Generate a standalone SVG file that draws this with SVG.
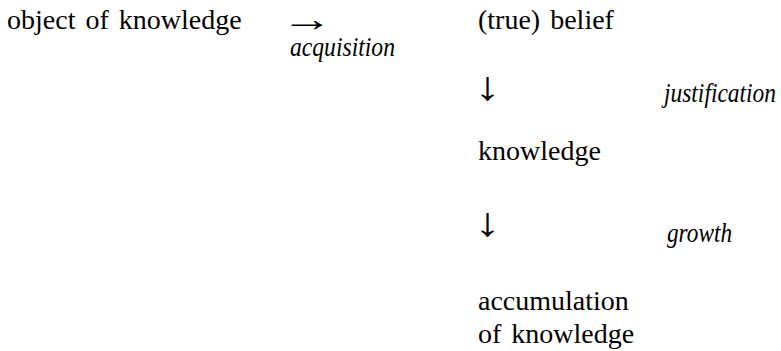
<svg xmlns="http://www.w3.org/2000/svg" width="781" height="351" viewBox="0 0 781 351">
<style>
.t{font-family:'Liberation Serif','Times New Roman',serif;font-size:28px;word-spacing:3px;fill:#000}
.it{font-family:'Liberation Serif','Times New Roman',serif;font-size:28px;font-style:italic;fill:#000}
.a{font-family:'Liberation Serif','Times New Roman',serif;font-size:26px;fill:#000}
</style>
<rect width="781" height="351" fill="#fff"/>
<g id="object-of-knowledge"><text class="t" x="7" y="29">object of knowledge</text></g>
<g id="true-belief"><text class="t" x="478" y="29">(true) belief</text></g>
<g id="knowledge"><text class="t" x="478" y="160">knowledge</text></g>
<g id="accumulation"><text class="t" x="478" y="310">accumulation</text><text class="t" x="478" y="343">of knowledge</text></g>
<g id="connectors">
<text class="a" transform="translate(281 31) scale(2 1.35)">→</text>
<text class="it" x="290" y="56" textLength="105" lengthAdjust="spacingAndGlyphs">acquisition</text>
<text class="a" transform="translate(474.5 100) scale(2 1.56)">↓</text>
<text class="it" x="664" y="102" textLength="112" lengthAdjust="spacingAndGlyphs">justification</text>
<text class="a" transform="translate(474.5 236) scale(2 1.56)">↓</text>
<text class="it" x="667" y="242" textLength="65" lengthAdjust="spacingAndGlyphs">growth</text>
</g>
</svg>
